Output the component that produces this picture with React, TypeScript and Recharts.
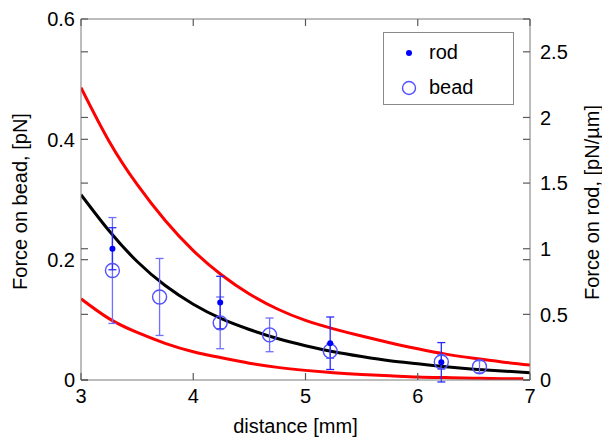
import {
  ComposedChart, Line, Scatter, ErrorBar, XAxis, YAxis, ReferenceLine
} from 'recharts';

// distance axis
const xTicks = [3, 4, 5, 6, 7];
const beadTicks = [0, 0.2, 0.4, 0.6];
const rodTicks = [0, 0.5, 1, 1.5, 2, 2.5];

// model curves (force on bead, pN)
const curveX = [3, 3.25, 3.5, 3.75, 4, 4.25, 4.5, 4.75, 5, 5.25, 5.5, 5.75, 6, 6.25, 6.5, 6.75, 7];
const modelY = [0.308, 0.248, 0.197, 0.157, 0.126, 0.102, 0.084, 0.069, 0.057, 0.047, 0.039, 0.032, 0.027, 0.022, 0.018, 0.015, 0.012];
const upperY = [0.486, 0.397, 0.325, 0.265, 0.215, 0.175, 0.143, 0.118, 0.099, 0.085, 0.073, 0.062, 0.052, 0.043, 0.036, 0.03, 0.025];
const lowerX = [3, 3.25, 3.5, 3.75, 4, 4.25, 4.5, 4.75, 5, 5.25, 5.5, 5.75, 6, 6.25, 6.5, 6.75, 6.94];
const lowerY = [0.135, 0.102, 0.079, 0.061, 0.047, 0.037, 0.028, 0.021, 0.016, 0.012, 0.009, 0.007, 0.005, 0.004, 0.003, 0.002, 0.002];

// measurements
const beadX = [3.28, 3.7, 4.24, 4.68, 5.22, 6.21, 6.55];
const beadY = [0.182, 0.138, 0.095, 0.075, 0.048, 0.03, 0.022];
const beadErr = [0.088, 0.064, 0.043, 0.028, 0.012, 0.012, 0.01];

const rodX = [3.28, 4.24, 5.22, 6.21];
const rodY = [1.0, 0.59, 0.28, 0.135]; // pN/µm
const rodErr = [0.16, 0.2, 0.2, 0.15];

const modelData = curveX.map((x, i) => ({ x, y: modelY[i] }));
const upperData = curveX.map((x, i) => ({ x, y: upperY[i] }));
const lowerData = lowerX.map((x, i) => ({ x, y: lowerY[i] }));
const beadData = beadX.map((x, i) => ({ x, y: beadY[i], err: beadErr[i] }));
const rodData = rodX.map((x, i) => ({ x, y: rodY[i], err: rodErr[i] }));

// layout
const W = 602;
const H = 441;
const TOP = 19;
const LEFT_W = 81;
const RIGHT_W = 72;
const X_H = 61;
const PLOT_W = W - LEFT_W - RIGHT_W;
const PLOT_H = H - TOP - X_H;
const TICK = 7;

const FONT = '"Liberation Sans", Arial, sans-serif';
const FRAME = '#7a7a7a';
const TICK_COLOR = '#5a5a5a';

// ticks point inwards, and each axis repeats its ticks on the opposite edge
const BottomTick = ({ x, y, payload }: any) => {
  const edge = y - 8;
  return (
    <g>
      <line x1={x} y1={edge} x2={x} y2={edge - TICK} stroke={TICK_COLOR} strokeWidth={1.2} />
      <line x1={x} y1={edge - PLOT_H} x2={x} y2={edge - PLOT_H + TICK} stroke={TICK_COLOR} strokeWidth={1.2} />
      <text x={x} y={y} dy="0.75em" textAnchor="middle" fontSize={20} fontFamily={FONT} fill="#000">
        {payload.value}
      </text>
    </g>
  );
};

const LeftTick = ({ x, y, payload }: any) => {
  const edge = x + 6;
  return (
    <g>
      <line x1={edge} y1={y} x2={edge + TICK} y2={y} stroke={TICK_COLOR} strokeWidth={1.2} />
      <line x1={edge + PLOT_W} y1={y} x2={edge + PLOT_W - TICK} y2={y} stroke={TICK_COLOR} strokeWidth={1.2} />
      <text x={x} y={y} dy="0.36em" textAnchor="end" fontSize={20} fontFamily={FONT} fill="#000">
        {payload.value}
      </text>
    </g>
  );
};

const RightTick = ({ x, y, payload }: any) => {
  const edge = x - 10;
  return (
    <g>
      <line x1={edge} y1={y} x2={edge - TICK} y2={y} stroke={TICK_COLOR} strokeWidth={1.2} />
      <line x1={edge - PLOT_W} y1={y} x2={edge - PLOT_W + TICK} y2={y} stroke={TICK_COLOR} strokeWidth={1.2} />
      <text x={x} y={y} dy="0.36em" textAnchor="start" fontSize={20} fontFamily={FONT} fill="#000">
        {payload.value}
      </text>
    </g>
  );
};

const BeadShape = (props: any) => (
  <circle cx={props.cx} cy={props.cy} r={7} fill="none" stroke="#5050ff" strokeWidth={1.4} />
);
const RodShape = (props: any) => (
  <circle cx={props.cx} cy={props.cy} r={3} fill="#0000ff" />
);

const leftLabel = ({ viewBox }: any) => {
  const x = viewBox.x + 20;
  const y = viewBox.y + viewBox.height / 2 + 2;
  return (
    <text x={x} y={y} transform={`rotate(-90 ${x} ${y})`} textAnchor="middle"
      dominantBaseline="central" fontSize={20} fontFamily={FONT} fill="#000">
      Force on bead, [pN]
    </text>
  );
};

const rightLabel = ({ viewBox }: any) => {
  const x = viewBox.x + 62;
  const y = viewBox.y + viewBox.height / 2 + 3;
  return (
    <text x={x} y={y} transform={`rotate(-90 ${x} ${y})`} textAnchor="middle"
      dominantBaseline="central" fontSize={20} fontFamily={FONT} fill="#000">
      Force on rod, [pN/µm]
    </text>
  );
};

const bottomLabel = ({ viewBox }: any) => (
  <text x={viewBox.x + viewBox.width / 2 - 10} y={viewBox.y + 53} textAnchor="middle"
    fontSize={20} fontFamily={FONT} fill="#000">
    distance [mm]
  </text>
);

export default function App() {
  return (
    <div style={{ position: 'absolute', left: 0, top: 0, width: W, height: H, background: '#fff' }}>
      <ComposedChart width={W} height={H} margin={{ top: TOP, right: 0, bottom: 0, left: 0 }}>
        <XAxis xAxisId="x" type="number" dataKey="x" domain={[3, 7]} ticks={xTicks} interval={0} allowDataOverflow
          tickLine={false} tickSize={0} tickMargin={8} height={X_H} stroke={FRAME} tick={BottomTick} label={bottomLabel} />
        <YAxis yAxisId="bead" dataKey="y" type="number" domain={[0, 0.6]} ticks={beadTicks} interval={0} allowDataOverflow
          tickLine={false} tickSize={0} tickMargin={6} width={LEFT_W} stroke={FRAME} tick={LeftTick} label={leftLabel} />
        <YAxis yAxisId="rod" orientation="right" dataKey="y" type="number" domain={[0, 2.75]} ticks={rodTicks} allowDataOverflow
          interval={0} tickLine={false} tickSize={0} tickMargin={10} width={RIGHT_W} stroke={FRAME} tick={RightTick} label={rightLabel} />

        <ReferenceLine xAxisId="x" yAxisId="bead" y={0.6} stroke={FRAME} />

        <Line xAxisId="x" yAxisId="bead" data={upperData} dataKey="y" type="natural"
          stroke="#ff0000" strokeWidth={3} dot={false} isAnimationActive={false} />
        <Line xAxisId="x" yAxisId="bead" data={lowerData} dataKey="y" type="natural"
          stroke="#ff0000" strokeWidth={3} dot={false} isAnimationActive={false} />
        <Line xAxisId="x" yAxisId="bead" data={modelData} dataKey="y" type="natural"
          stroke="#000000" strokeWidth={3} dot={false} isAnimationActive={false} />

        <Scatter xAxisId="x" yAxisId="bead" data={beadData} dataKey="y" shape={BeadShape} isAnimationActive={false}>
          <ErrorBar dataKey="err" direction="y" width={4} stroke="#7070ff" strokeWidth={1.3} />
        </Scatter>
        <Scatter xAxisId="x" yAxisId="rod" data={rodData} dataKey="y" shape={RodShape} isAnimationActive={false}>
          <ErrorBar dataKey="err" direction="y" width={4} stroke="#2a2aff" strokeWidth={1.3} />
        </Scatter>
      </ComposedChart>

      <svg width={131} height={73} style={{ position: 'absolute', left: 383, top: 32 }}>
        <rect x={0.5} y={0.5} width={130} height={72} fill="#fff" stroke="#8a8a8a" />
        <circle cx={26} cy={21} r={3} fill="#0000ff" />
        <text x={46} y={27} fontSize={20} fontFamily={FONT} fill="#000">rod</text>
        <circle cx={26} cy={56} r={6.5} fill="none" stroke="#5050ff" strokeWidth={1.4} />
        <text x={46} y={62} fontSize={20} fontFamily={FONT} fill="#000">bead</text>
      </svg>
    </div>
  );
}
